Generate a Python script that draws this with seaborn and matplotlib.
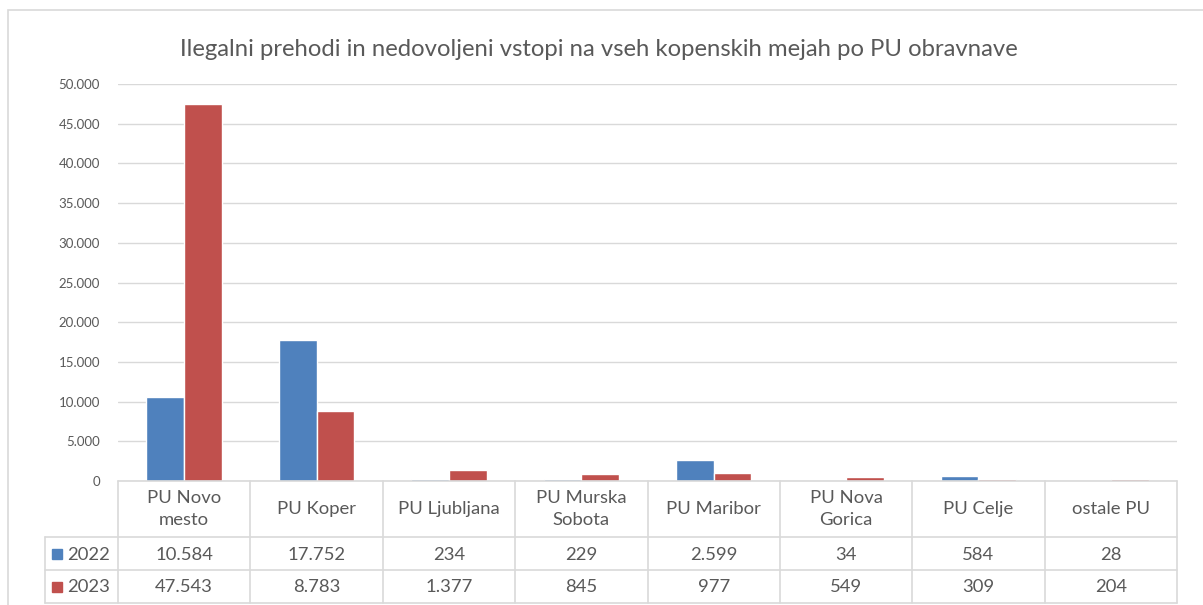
import numpy as np
import pandas as pd
import matplotlib.pyplot as plt
import matplotlib.transforms as mtransforms
from matplotlib.patches import Rectangle
import seaborn as sns

# Data
categories = ["PU Novo\nmesto", "PU Koper", "PU Ljubljana", "PU Murska\nSobota",
              "PU Maribor", "PU Nova\nGorica", "PU Celje", "ostale PU"]
years = ["2022", "2023"]
values_2022 = [10584, 17752, 234, 229, 2599, 34, 584, 28]
values_2023 = [47543, 8783, 1377, 845, 977, 549, 309, 204]
colors = ["#4F81BD", "#C0504D"]
title = "Ilegalni prehodi in nedovoljeni vstopi na vseh kopenskih mejah po PU obravnave"

df = pd.DataFrame({
    "kategorija": categories * 2,
    "leto": [years[0]] * len(categories) + [years[1]] * len(categories),
    "vrednost": values_2022 + values_2023,
})

sns.set_style("white")
plt.rcParams["font.family"] = ["Lato", "DejaVu Sans"]
text_col = "#595959"
line_col = "#D9D9D9"

W, H = 1203, 605
fig = plt.figure(figsize=(W / 100, H / 100), dpi=100)

def fy(py):
    return (H - py) / H

left, right, top, bottom = 118, 1177, 84, 481
ax = fig.add_axes([left / W, fy(bottom), (right - left) / W, (bottom - top) / H])

sns.barplot(data=df, x="kategorija", y="vrednost", hue="leto", palette=colors,
            width=0.57, ax=ax, legend=False, saturation=1)

ax.set_ylim(0, 50000)
ax.set_xlim(-0.5, len(categories) - 0.5)
ax.set_yticks(np.arange(0, 50001, 5000))
ax.set_yticklabels([f"{v:,}".replace(",", ".") for v in range(0, 50001, 5000)],
                   fontsize=9.5, color=text_col)
ax.tick_params(axis="y", length=0, pad=13)
ax.set_xticks([])
ax.set_xlabel("")
ax.set_ylabel("")
ax.grid(axis="y", color=line_col, linewidth=1)
ax.set_axisbelow(True)
for s in ax.spines.values():
    s.set_visible(False)

fig.text(599 / W, fy(50), title, ha="center", va="center", fontsize=17.2, color=text_col)

# chart frame
fig.patches.append(Rectangle((8 / W, -0.01), 1.0, fy(10) + 0.01, transform=fig.transFigure,
                             fill=False, edgecolor=line_col, linewidth=1.2))

# data table under the axis
trans = mtransforms.blended_transform_factory(ax.transData, fig.transFigure)
cw = (right - left) / len(categories)
x_leg = -0.5 + (45 - left) / cw
rows_y = [481, 537, 570, 603]
n = len(categories)

kw = dict(transform=trans, color=line_col, linewidth=1.2, clip_on=False)
ax.plot([-0.5, n - 0.5], [fy(rows_y[0])] * 2, **kw)
for ry in rows_y[1:]:
    ax.plot([x_leg, n - 0.5], [fy(ry)] * 2, **kw)
for i in range(n + 1):
    ax.plot([i - 0.5] * 2, [fy(rows_y[0]), fy(rows_y[3])], **kw)
ax.plot([x_leg] * 2, [fy(rows_y[1]), fy(rows_y[3])], **kw)

fs = 13.3
for i, cat in enumerate(categories):
    ax.text(i, fy((rows_y[0] + rows_y[1]) / 2), cat, transform=trans, ha="center",
            va="center", fontsize=fs, color=text_col, linespacing=1.4)
    for r, vals in enumerate([values_2022, values_2023]):
        ax.text(i, fy((rows_y[r + 1] + rows_y[r + 2]) / 2 + 1),
                f"{vals[i]:,}".replace(",", "."), transform=trans, ha="center",
                va="center", fontsize=fs, color=text_col)

for r, (yr, c) in enumerate(zip(years, colors)):
    yc = (rows_y[r + 1] + rows_y[r + 2]) / 2
    fig.patches.append(Rectangle((52 / W, fy(yc + 5)), 10 / W, 10 / H,
                                 transform=fig.transFigure, color=c))
    fig.text(67 / W, fy(yc + 1), yr, ha="left", va="center", fontsize=fs, color=text_col)

fig.savefig("out.png", dpi=100)
